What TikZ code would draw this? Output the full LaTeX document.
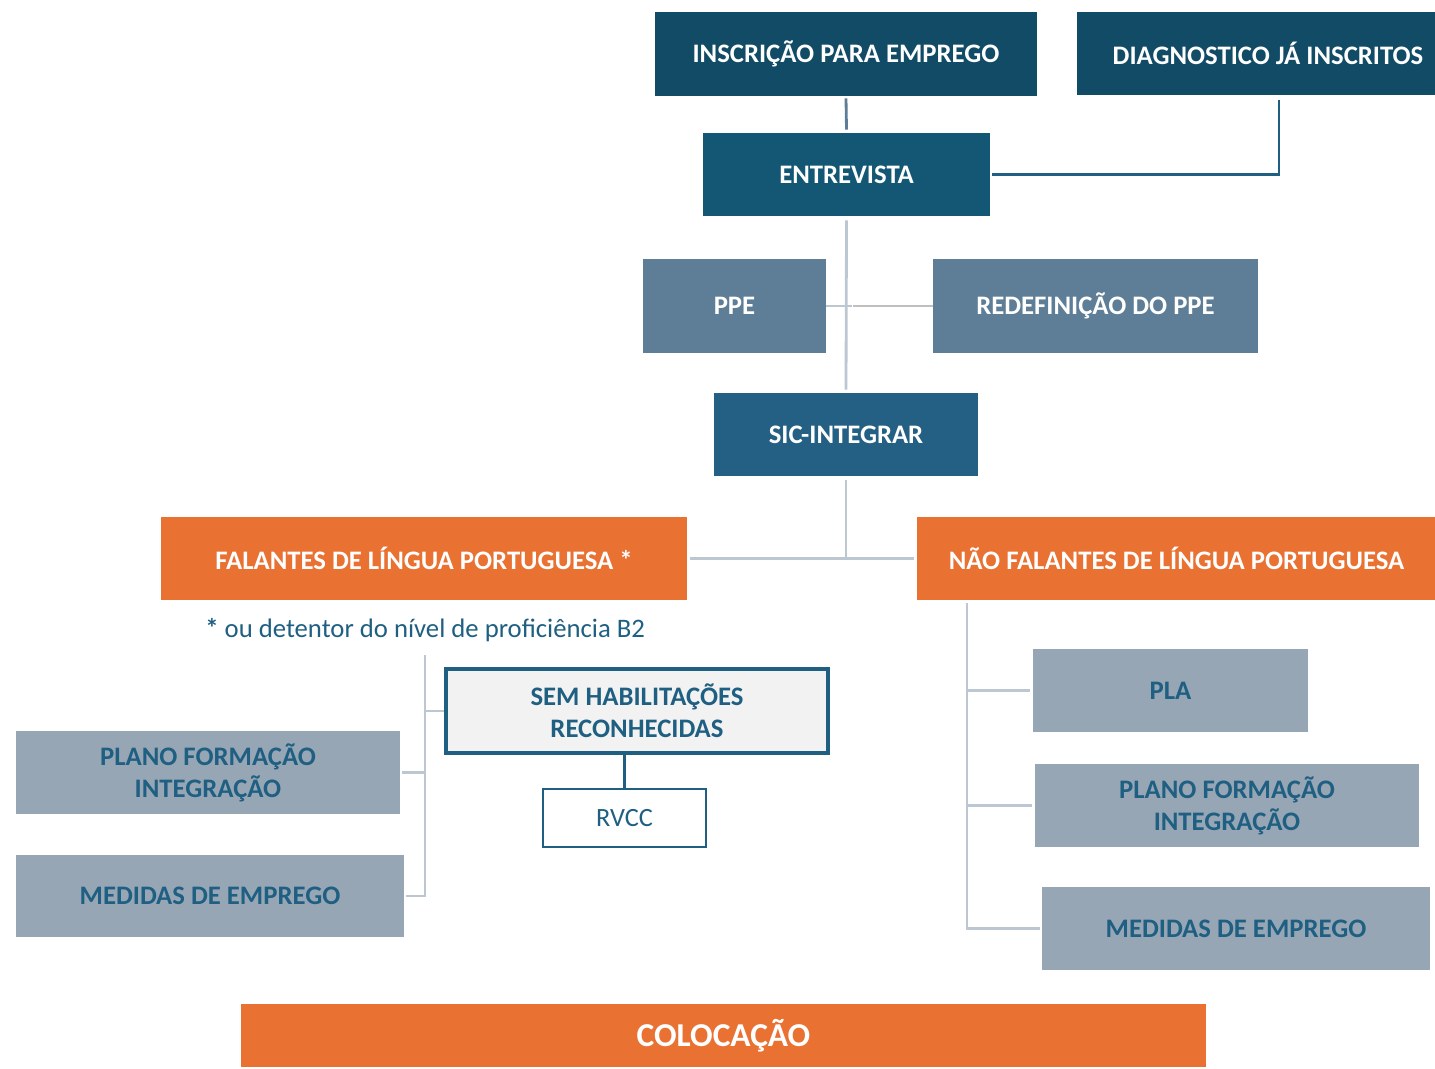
\documentclass[tikz,border=0pt]{standalone}
\usepackage{fontspec}
\setmainfont{Carlito}
\usepackage{xcolor}
\usepackage{tikz}
\usetikzlibrary{positioning, calc}
\definecolor{iedark}{RGB}{17, 75, 102}
\definecolor{ieentr}{RGB}{19, 87, 117}
\definecolor{iemid}{RGB}{94, 125, 150}
\definecolor{iesic}{RGB}{35, 96, 131}
\definecolor{ieorange}{RGB}{233, 113, 50}
\definecolor{iegray}{RGB}{151, 166, 181}
\definecolor{ietext}{RGB}{31, 95, 130}
\definecolor{ieline}{RGB}{188, 199, 209}
\definecolor{iepale}{RGB}{242, 242, 242}
\tikzset{
    box/.style={inner sep=2pt, align=center, font=\fontsize{15.2}{18.2}\selectfont\bfseries},
    topbox/.style={box, fill=iedark, text=white},
    entrbox/.style={box, fill=ieentr, text=white},
    midbox/.style={box, fill=iemid, text=white},
    sicbox/.style={box, fill=iesic, text=white},
    orangebox/.style={box, fill=ieorange, text=white},
    graybox/.style={box, fill=iegray, text=ietext},
    link/.style={ieline, line width=1.6pt},
    darklink/.style={ietext, line width=1.6pt}
}

\begin{document}
\begin{tikzpicture}
        \useasboundingbox (0,0) rectangle (28.7,-21.36);

        % Top row
        \node[topbox, minimum width=7.64cm, minimum height=1.68cm] (insc) at (16.92,-1.08) {INSCRIÇÃO PARA EMPREGO};
        \node[topbox, minimum width=7.64cm, minimum height=1.66cm] (diag) at (25.36,-1.07) {DIAGNOSTICO JÁ INSCRITOS};
        \node[entrbox, minimum width=5.74cm, minimum height=1.66cm] (entr) at (16.93,-3.49) {ENTREVISTA};

        % Personal plan
        \node[midbox, minimum width=3.66cm, minimum height=1.88cm] (ppe) at (14.69,-6.12) {PPE};
        \node[midbox, minimum width=6.5cm, minimum height=1.88cm] (redef) at (21.91,-6.12) {REDEFINIÇÃO DO PPE};
        \node[sicbox, minimum width=5.28cm, minimum height=1.66cm] (sic) at (16.92,-8.69) {SIC-INTEGRAR};

        % Language groups
        \node[orangebox, minimum width=10.52cm, minimum height=1.66cm] (fal) at (8.48,-11.17) {FALANTES DE LÍNGUA PORTUGUESA *};
        \node[orangebox, minimum width=10.38cm, minimum height=1.66cm] (nfal) at (23.53,-11.17) {NÃO FALANTES DE LÍNGUA PORTUGUESA};
        \node[anchor=west, inner sep=0pt, text=ietext, font=\fontsize{15.2}{18}\selectfont] (note) at (4.1,-12.6) {\textbf{*} ou detentor do nível de proficiência B2};

        % Left branch
        \node[box, fill=iepale, text=ietext, draw=ietext, line width=2.6pt, minimum width=7.64cm, minimum height=1.68cm] (sem) at (12.74,-14.22) {SEM HABILITAÇÕES\\RECONHECIDAS};
        \node[box, font=\fontsize{15}{18}\selectfont, fill=white, text=ietext, draw=ietext, line width=1.6pt, minimum width=3.26cm, minimum height=1.16cm] (rvcc) at (12.49,-16.36) {RVCC};
        \node[graybox, minimum width=7.68cm, minimum height=1.66cm] (plfl) at (4.16,-15.45) {PLANO FORMAÇÃO\\INTEGRAÇÃO};
        \node[graybox, minimum width=7.76cm, minimum height=1.64cm] (medl) at (4.2,-17.92) {MEDIDAS DE EMPREGO};

        % Right branch
        \node[graybox, minimum width=5.5cm, minimum height=1.66cm] (pla) at (23.41,-13.81) {PLA};
        \node[graybox, minimum width=7.68cm, minimum height=1.66cm] (plfr) at (24.54,-16.11) {PLANO FORMAÇÃO\\INTEGRAÇÃO};
        \node[graybox, minimum width=7.76cm, minimum height=1.66cm] (medr) at (24.72,-18.57) {MEDIDAS DE EMPREGO};

        % Placement
        \node[orangebox, font=\fontsize{19}{22}\selectfont\bfseries, minimum width=19.3cm, minimum height=1.26cm] (col) at (14.47,-20.71) {COLOCAÇÃO};

        % Connectors at the top
        \draw[iemid, line width=1.6pt] ($(insc.south)+(0,-0.04)$) -- ($(entr.north)+(0,0.06)$);
        \coordinate (dj) at (25.58,-2.0);
        \draw[darklink] (dj) |- ($(entr.east)+(0.04,0)$);
        \draw[link] ($(entr.south)+(0,-0.08)$) -- ($(sic.north)+(0,0.06)$);
        \draw[link] (ppe.east) -- ($(ppe.east -| entr.south)+(0.1,0)$);
        \draw[gray!50, line width=1.6pt] (redef.west) -- ($(redef.west -| entr.south)+(0.12,0)$);

        % Split into the two groups
        \draw[link] ($(sic.south)+(0,-0.08)$) -- (sic.south |- fal.east);
        \draw[link] ($(fal.east)+(0.06,0)$) -- ($(nfal.west)+(-0.06,0)$);

        % Left bracket
        \coordinate (lb) at (8.5,-13.1);
        \draw[link] (lb) |- ($(medl.east)+(0.04,0)$);
        \draw[link] (sem.west) -- (sem.west -| lb);
        \draw[link] ($(plfl.east)+(0.04,0)$) -- (plfl.east -| lb);
        \draw[darklink] (rvcc.north |- sem.south) -- (rvcc.north);

        % Right bracket
        \coordinate (rb) at (19.34,-12.06);
        \draw[link] (rb) |- ($(medr.west)+(-0.04,0)$);
        \draw[link] (pla.west -| rb) -- ($(pla.west)+(-0.06,0)$);
        \draw[link] (plfr.west -| rb) -- ($(plfr.west)+(-0.06,0)$);
    \end{tikzpicture}
\end{document}
